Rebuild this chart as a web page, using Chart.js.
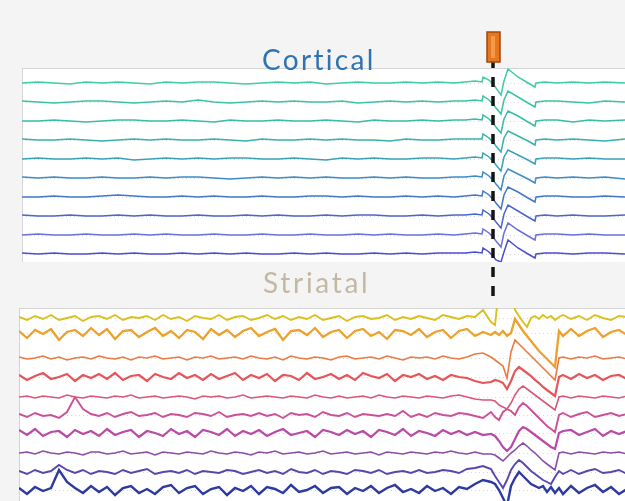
<!DOCTYPE html>
<html>
<head>
<meta charset="utf-8">
<script src="https://cdn.jsdelivr.net/npm/chart.js@4.4.1/dist/chart.umd.min.js"></script>
<style>
  html, body { margin: 0; padding: 0; background: #f4f4f4; width: 625px; height: 501px; overflow: hidden; }
  canvas { display: block; }
  #cortexWrap { position: absolute; left: 0; top: 0; width: 625px; height: 501px; }
  #striatumWrap { position: absolute; left: 19px; top: 308px; width: 606px; height: 193px; z-index: 2; }
  .title { position: absolute; font-family: Lato, sans-serif; line-height: 1; white-space: nowrap; z-index: 3; }
  #cortexTitle { left: 262px; top: 45px; font-size: 28px; color: #2f74b2; letter-spacing: 2.3px; }
  #striatumTitle { left: 263px; top: 268px; font-size: 28px; color: #c4b8a4; letter-spacing: 2.7px; }
</style>
</head>
<body>
<div id="cortexWrap"><canvas id="cortexChart" width="625" height="501"></canvas></div>
<div id="striatumWrap"><canvas id="striatumChart" width="606" height="193"></canvas></div>
<div class="title" id="cortexTitle">Cortical</div>
<div class="title" id="striatumTitle">Striatal</div>

<script>
// time in ms, stimulus at 0
const stimTime = 0;

// ---------- cortical channels ----------
const cortexTime = [
  -471, -455, -439, -423, -407, -391, -375, -359, -343, -327,
  -311, -295, -279, -263, -247, -231, -215, -199, -183, -167,
  -151, -135, -119, -103, -87, -71, -55, -39,
  -28, -18, -11, -10, -4, 0, 3, 8, 11, 15, 25, 35, 42, 43, 52,
  64, 80, 96, 112, 132
];

// channel baselines (top to bottom)
const cortexOffsets = [179, 160, 141, 122, 103, 84, 65, 46, 27, 8];

const cortexColors = ['#3fcca6', '#3bc4a4', '#39bca8', '#37b2ae', '#3aa2b8',
  '#3d8cc6', '#4278c6', '#4a66cc', '#6c70da', '#4a4ed0'];

const ctx1 = [0,1,0,-1,1,0,1,0,-1,1,0,1,1,0,-1,0,1,0,1,-1,0,1,0,0,1,0,1,0,
  1,2,1,6,3,-1,-5,-12,2,14,6,0,-4,0,1, 0,1,0,1,0];
const ctx2 = [1,0,-1,0,1,1,0,-1,0,1,0,2,0,-1,0,1,0,1,0,0,1,-1,0,1,0,1,0,1,
  1,2,1,6,2,-2,-6,-12,2,11,5,-1,-5,0,1, 1,0,-1,1,0];
const ctx3 = [0,0,1,0,-1,0,1,1,0,0,1,0,-1,1,0,0,1,0,0,1,0,-1,1,0,0,1,0,1,
  1,2,1,6,2,-2,-6,-12,2,10,5,-1,-5,0,1, 1,-1,1,0,1];
const ctx4 = [1,0,0,1,0,-1,0,1,0,1,0,0,1,0,-1,1,0,0,1,0,1,0,0,-1,1,0,0,1,
  1,1,1,6,2,-2,-6,-12,2,9,4,-1,-5,0,1, 0,1,0,-1,1];
const ctx5 = [0,1,0,0,1,0,1,-1,0,1,0,1,0,1,1,0,0,1,0,-1,1,0,1,0,0,1,1,0,
  1,2,1,6,2,-2,-6,-12,2,9,4,-1,-5,0,1, 1,0,1,0,0];
const ctx6 = [1,0,1,0,0,1,0,0,1,0,1,1,0,-1,0,1,0,1,0,1,0,0,1,0,1,0,0,1,
  1,2,1,6,2,-2,-6,-12,2,9,4,-1,-5,0,1, 0,1,0,1,-1];
const ctx7 = [0,0,1,0,0,1,2,1,0,0,1,0,1,0,0,1,0,0,1,1,0,1,0,0,1,0,1,0,
  1,2,1,6,2,-2,-6,-12,2,10,5,-1,-5,0,1, 1,0,0,1,0];
const ctx8 = [1,0,0,1,0,0,1,0,1,0,0,1,0,0,1,0,1,0,0,1,0,1,1,0,0,1,0,1,
  1,2,1,6,2,-2,-6,-12,2,11,5,-1,-5,0,1, 0,1,0,0,1];
const ctx9 = [0,1,0,0,1,0,0,1,0,1,0,0,1,0,0,1,0,0,1,0,0,1,0,1,0,0,1,0,
  1,2,1,6,2,-2,-6,-12,2,12,5,-1,-5,0,1, 1,0,1,0,0];
const ctx10 = [1,0,1,0,0,1,0,1,0,0,1,0,1,0,1,0,0,1,0,1,0,0,1,0,1,0,1,1,
  1,2,1,6,2,-2,-6,-8,2,14,6,0,-4,0,1, 1,0,1,1,0];

const cortexTraces = [ctx1, ctx2, ctx3, ctx4, ctx5, ctx6, ctx7, ctx8, ctx9, ctx10];

// ---------- striatal channels ----------
const striatumTime = [
  -474, -466, -458, -450, -442, -434, -426, -418, -410, -402,
  -394, -386, -378, -370, -362, -354, -346, -338, -330, -322,
  -314, -306, -298, -290, -282, -274, -266, -258, -250, -242,
  -234, -226, -218, -210, -202, -194, -186, -178, -170, -162,
  -154, -146, -138, -130, -122, -114, -106, -98, -90, -82,
  -74, -66, -58, -50, -42, -34, -26, -18, -10, -2,
  2, 6, 10, 14, 18, 22, 26, 30, 34, 38, 42, 46, 50, 54, 58, 62, 66, 70,
  78, 86, 94, 102, 110, 118, 126, 134
];

const striatumOffsets = [183, 168, 143, 124, 104, 86, 68, 48, 29, 11];

const striatumColors = ['#d9c01e', '#eea12a', '#ec7a40', '#e4565a', '#d9577a',
  '#cc5096', '#b84aa8', '#8a4ea6', '#5548ac', '#2d3aa0'];

const striYellow = [
  1,-2,2,-1,3,-2,0,2,-3,1, 2,-1,3,-2,1,0,2,-2,3,-1, 1,-3,2,0,-1,3,-2,1,2,-2,
  0,3,-1,2,-2,1,-1,3,-2,0, 2,-3,1,2,-1,0,3,-2,1,-1, 2,0,-2,3,1,-1,2,1,8,-4,
  -7,30,30,30,30,8,2,-4,-9,0,2,-1,3,0,2,-2,1,3,
  -1,2,-2,3,0,-2,2,1];
const striOrange = [
  2,-5,3,-1,4,-7,1,3,-3,5, -2,4,-6,2,3,-4,1,5,-3,2, -5,3,1,-6,4,-2,3,-4,2,5,
  -3,1,4,-7,2,3,-2,5,-4,1, 3,-5,2,4,-3,1,-6,3,2,-2, 4,-4,1,3,-5,2,4,-3,1,-2,
  1,-2,2,-3,0,14,8,2,-3,-8,-13,-18,-22,-26,-30,-34,2,-3,
  4,-3,2,5,-4,1,3,-2];
const striOrangeRed = [
  1,-1,0,2,-1,1,-2,0,1,-1, 2,0,-1,1,-2,1,0,2,-1,0, 1,-2,1,0,2,-1,0,1,-1,2,
  0,-1,1,-2,2,0,-1,1,0,-2, 1,2,-1,0,1,-1,2,0,-2,1, 0,1,-1,2,0,-1,1,4,5,1,
  -2,-5,-8,-20,6,18,14,10,6,2,-2,-6,-10,-14,-18,-22,0,1,
  -1,1,0,2,-1,0,1,-1];
const striRed = [
  2,-3,1,4,-2,0,3,-4,2,-1, 3,-2,4,-3,1,2,-4,3,0,-2, 4,-1,2,-3,3,-2,1,4,-3,2,
  -1,3,-4,2,1,-3,4,-2,0,3, -2,2,-3,4,1,-1,3,-4,2,0, 3,-2,1,-3,2,0,-1,-4,-6,-5,
  -3,-4,-6,-12,-4,6,10,7,4,1,-3,-6,-10,-13,-16,-19,0,2,
  -2,3,-1,2,-3,1,2,-2];
const striPink = [
  0,1,-1,1,0,-1,2,0,-1,1, 0,-1,1,0,2,-1,0,1,-1,0, 1,0,-2,1,0,1,-1,0,2,-1,
  0,1,0,-1,1,0,-1,2,0,-1, 1,-1,0,1,-1,2,0,-1,1,0, -1,1,0,-1,1,2,0,-2,-3,-3,
  -4,-8,-10,-12,-6,2,8,11,8,5,2,-1,-4,-7,-10,-13,0,1,
  -1,1,0,-1,1,0,-1,1];
const striMagenta = [
  1,-2,2,-1,0,-3,3,18,6,1, -1,2,-2,1,3,-1,0,2,-2,1, 0,-2,2,1,-1,3,-2,0,1,-1,
  2,-1,1,-3,2,0,1,-2,3,0, -1,2,-2,1,0,-1,1,-1,4,-2, 1,-2,2,0,-1,2,1,-1,-3,3,
  -2,-5,3,6,4,0,8,12,9,5,1,-3,-7,-11,-14,-17,0,2,
  -2,1,3,-2,0,2,-1,1];
const striPlum = [
  3,-2,4,-3,1,2,-4,3,-1,2, -3,4,-2,1,3,-4,2,0,-3,4, -1,2,-4,3,1,-2,4,-3,2,-1,
  3,-3,1,4,-2,0,2,-4,3,1, -2,3,-1,2,-4,3,1,-2,4,-3, 2,0,-3,3,-1,2,-2,1,-2,-1,
  -3,-8,-14,-18,-14,-6,2,6,4,1,-2,-5,-8,-11,-14,-16,0,2,
  3,-2,1,4,-3,2,-1,2];
const striPurple = [
  0,1,-1,2,0,-1,1,0,-2,1, 1,-1,0,2,-1,0,1,-2,1,0, -1,1,0,-1,2,0,-1,1,0,-2,
  1,0,2,-1,0,1,-1,0,2,-1, 0,1,-1,0,1,-2,1,0,-1,1, 0,-1,1,0,2,0,-1,1,-1,-1,
  -2,-5,-8,-4,0,3,7,10,7,3,0,-4,-8,-11,-14,-17,0,1,
  -1,1,0,-1,1,0,1,-1];
const striIndigo = [
  1,-2,2,-1,1,7,2,-1,2,-2, 1,0,-2,2,-1,1,3,-2,0,1, -1,2,-2,1,0,-1,2,1,-2,0,
  2,-1,1,-2,3,0,-1,2,-2,1, 0,-2,2,1,-1,2,-2,0,1,-1, 2,-1,0,2,1,-1,3,4,6,3,
  -4,-10,-16,-8,2,8,12,9,5,1,-2,-5,-8,-10,-12,-5,1,-2,
  2,-2,1,3,-1,0,2,-2];
const striBlue = [
  2,-4,3,-1,2,20,8,2,-3,4, -2,3,-5,2,4,-3,1,-4,3,5, -3,2,4,-4,1,3,-5,2,-1,4,
  -4,3,1,-3,5,-2,0,4,-3,2, 3,-4,2,-1,4,-3,2,5,-2,1, -3,4,-1,2,-4,3,1,6,10,8,
  6,0,-8,-16,4,12,18,14,10,6,4,2,4,-2,3,-3,2,-4,
  4,-3,2,5,-2,3,-4,1];

const striatumTraces = [striYellow, striOrange, striOrangeRed, striRed, striPink,
  striMagenta, striPlum, striPurple, striIndigo, striBlue];
const striatumWidths = [1.9, 2.3, 1.6, 2.2, 1.6, 1.9, 2.2, 1.6, 1.9, 2.4];

function buildDatasets(times, traces, offsets, colors, widths) {
  return traces.map((vals, i) => ({
    data: vals.map((v, j) => ({ x: times[j], y: offsets[i] + v })),
    borderColor: colors[i],
    borderWidth: Array.isArray(widths) ? widths[i] : widths,
    pointRadius: 0,
    tension: 0,
    fill: false
  }));
}

// white panel + dotted channel baselines
const panelPlugin = {
  id: 'panel',
  beforeDraw(chart, args, opts) {
    const { ctx, chartArea: a, scales } = chart;
    ctx.save();
    ctx.fillStyle = '#ffffff';
    ctx.fillRect(a.left, a.top, a.right - a.left, a.bottom - a.top);
    ctx.strokeStyle = '#d4d4d4';
    ctx.lineWidth = 1;
    ctx.beginPath();
    ctx.moveTo(a.left, a.top + 0.5);
    ctx.lineTo(a.right, a.top + 0.5);
    ctx.moveTo(a.left + 0.5, a.top);
    ctx.lineTo(a.left + 0.5, a.bottom);
    ctx.stroke();
    ctx.setLineDash([1, 3]);
    ctx.strokeStyle = '#d8d8d8';
    opts.offsets.forEach(o => {
      const y = Math.round(scales.y.getPixelForValue(o)) + 0.5;
      ctx.beginPath();
      ctx.moveTo(a.left, y);
      ctx.lineTo(a.right, y);
      ctx.stroke();
    });
    ctx.restore();
  }
};

// stimulus marker and dashed line through both panels
const stimPlugin = {
  id: 'stim',
  afterDatasetsDraw(chart) {
    const { ctx, scales } = chart;
    const x = Math.round(scales.x.getPixelForValue(stimTime));
    ctx.save();
    ctx.strokeStyle = '#141414';
    ctx.lineWidth = 3.5;
    ctx.setLineDash([10, 9]);
    ctx.beginPath();
    ctx.moveTo(x, 58);
    ctx.lineTo(x, 296);
    ctx.stroke();
    ctx.setLineDash([]);
    ctx.fillStyle = '#e8761e';
    ctx.strokeStyle = '#9a4a12';
    ctx.lineWidth = 1.5;
    ctx.fillRect(x - 6, 32, 13, 30);
    ctx.strokeRect(x - 6, 32, 13, 30);
    ctx.fillStyle = '#f39a4a';
    ctx.fillRect(x - 2, 36, 4, 22);
    ctx.restore();
  }
};

function baseOptions(xMin, xMax, yMax, padding, offsets) {
  return {
    responsive: false,
    devicePixelRatio: 1,
    animation: false,
    layout: { padding: padding },
    plugins: {
      legend: { display: false },
      tooltip: { enabled: false },
      panel: { offsets: offsets }
    },
    scales: {
      x: { type: 'linear', min: xMin, max: xMax, display: false },
      y: { type: 'linear', min: 0, max: yMax, display: false }
    }
  };
}

new Chart(document.getElementById('cortexChart'), {
  type: 'line',
  data: { datasets: buildDatasets(cortexTime, cortexTraces, cortexOffsets, cortexColors, 1.5) },
  options: baseOptions(-471, 132, 194, { left: 22, top: 68, right: 0, bottom: 239 }, cortexOffsets),
  plugins: [panelPlugin, stimPlugin]
});

new Chart(document.getElementById('striatumChart'), {
  type: 'line',
  data: { datasets: buildDatasets(striatumTime, striatumTraces, striatumOffsets, striatumColors, striatumWidths) },
  options: baseOptions(-474, 132, 193, 0, striatumOffsets),
  plugins: [panelPlugin]
});
</script>
</body>
</html>
